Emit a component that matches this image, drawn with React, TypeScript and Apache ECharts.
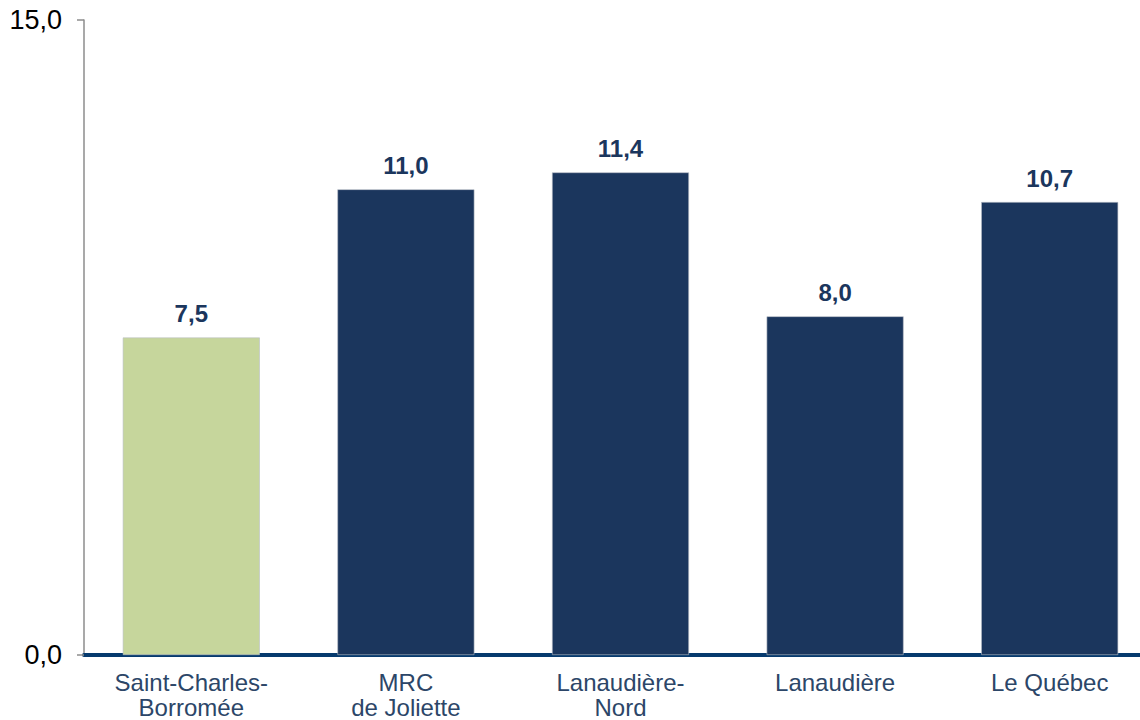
import React, { useEffect, useRef } from "react";
import * as echarts from "echarts";

const categories = ["Saint-Charles-\nBorromée", "MRC\nde Joliette", "Lanaudière-\nNord", "Lanaudière", "Le Québec"];
const values = [7.5, 11.0, 11.4, 8.0, 10.7];
const barColors = ["#c6d69c", "#1b365d", "#1b365d", "#1b365d", "#1b365d"];
const yTicks = [0, 15];

export default function App() {
  const ref = useRef<HTMLDivElement>(null);
  useEffect(() => {
    const chart = echarts.init(ref.current!, null, { renderer: "svg" });
    chart.setOption({
      animation: false,
      textStyle: { fontFamily: "Liberation Sans, Arial, sans-serif" },
      grid: { left: 84, right: 0, top: 20, bottom: 65, containLabel: false, outerBoundsMode: "none" },
      xAxis: {
        type: "category",
        data: categories,
        axisLine: { show: true, lineStyle: { color: "#063a6e", width: 4 } },
        axisTick: { show: false },
        axisLabel: { color: "#2c4668", fontSize: 24, lineHeight: 25, margin: 15, interval: 0 },
      },
      yAxis: {
        type: "value",
        min: 0,
        max: 15,
        interval: 15,
        axisLine: { show: true, lineStyle: { color: "#8c8c8c", width: 1.5 } },
        axisTick: { show: true, length: 7, lineStyle: { color: "#8c8c8c", width: 1.5 } },
        splitLine: { show: false },
        axisLabel: {
          color: "#000",
          fontSize: 27,
          margin: 22,
          formatter: (v: number) => (yTicks.includes(v) ? v.toFixed(1).replace(".", ",") : ""),
        },
      },
      series: [
        {
          type: "bar",
          barWidth: 137,
          data: values.map((v, i) => ({
            value: v,
            itemStyle: { color: barColors[i], borderColor: "#b8bec6", borderWidth: 0.6 },
          })),
          label: {
            show: true,
            position: "top",
            distance: 12,
            color: "#1b365d",
            fontWeight: "bold",
            fontSize: 24,
            formatter: (p: any) => p.value.toFixed(1).replace(".", ","),
          },
        },
      ],
    });
    return () => chart.dispose();
  }, []);
  return (
    <div style={{ position: "absolute", left: 0, top: 0, width: 1140, height: 720, overflow: "hidden" }}>
      <div ref={ref} style={{ width: 1157, height: 720 }} />
    </div>
  );
}
